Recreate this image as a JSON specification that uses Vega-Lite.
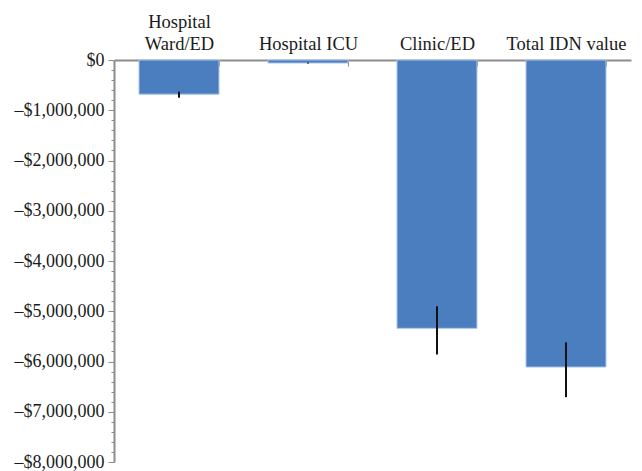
{
  "$schema": "https://vega.github.io/schema/vega-lite/v6.json",
  "width": 517,
  "height": 402,
  "autosize": {"type": "none"},
  "padding": {"left": 114, "top": 60, "right": 11, "bottom": 9},
  "config": {
    "view": {"stroke": null},
    "font": "Liberation Serif",
    "axis": {"grid": false, "domainColor": "#8c8c8c", "tickColor": "#8c8c8c", "labelColor": "#1a1a1a", "labelFont": "Liberation Serif"}
  },
  "data": {
    "values": [
      {"category": "Hospital Ward/ED", "value": -680000, "lo": -630000, "hi": -750000},
      {"category": "Hospital ICU", "value": -60000, "lo": -50000, "hi": -70000},
      {"category": "Clinic/ED", "value": -5340000, "lo": -4900000, "hi": -5860000},
      {"category": "Total IDN value", "value": -6110000, "lo": -5620000, "hi": -6710000}
    ]
  },
  "layer": [
    {
      "mark": {"type": "bar", "color": "#4a7ebf", "stroke": "#a9c4e8", "strokeWidth": 1},
      "encoding": {
        "x": {
          "field": "category", "type": "nominal", "sort": null,
          "scale": {"paddingInner": 0.38, "paddingOuter": 0.194},
          "axis": {
            "orient": "top", "title": null, "labelAngle": 0, "tickBand": "extent",
            "tickSize": -6, "domainWidth": 2, "labelFontSize": 18.5, "labelPadding": 35,
            "labelLineHeight": 22, "labelOverlap": false,
            "labelExpr": "datum.label == 'Hospital Ward/ED' ? ['Hospital', 'Ward/ED'] : ['', datum.label]"
          }
        },
        "y": {
          "field": "value", "type": "quantitative",
          "scale": {"domain": [-8000000, 0], "nice": false},
          "axis": {
            "title": null, "orient": "left",
            "values": [0, -1000000, -2000000, -3000000, -4000000, -5000000, -6000000, -7000000, -8000000],
            "labelExpr": "datum.value == 0 ? '$0' : '\u2013' + format(-datum.value, '$,.0f')",
            "tickSize": 6, "domainWidth": 2, "labelFontSize": 18, "labelPadding": 4
          }
        }
      }
    },
    {
      "mark": {"type": "rule", "color": "#111111", "strokeWidth": 2},
      "encoding": {
        "x": {"field": "category", "type": "nominal", "sort": null},
        "y": {
          "field": "lo", "type": "quantitative",
          "axis": {
            "title": null, "orient": "left", "labels": false, "domain": false, "tickSize": 3,
            "values": [-200000, -400000, -600000, -800000, -1200000, -1400000, -1600000, -1800000, -2200000, -2400000, -2600000, -2800000, -3200000, -3400000, -3600000, -3800000, -4200000, -4400000, -4600000, -4800000, -5200000, -5400000, -5600000, -5800000, -6200000, -6400000, -6600000, -6800000, -7200000, -7400000, -7600000, -7800000]
          }
        },
        "y2": {"field": "hi"}
      }
    }
  ],
  "resolve": {"axis": {"y": "independent"}}
}
